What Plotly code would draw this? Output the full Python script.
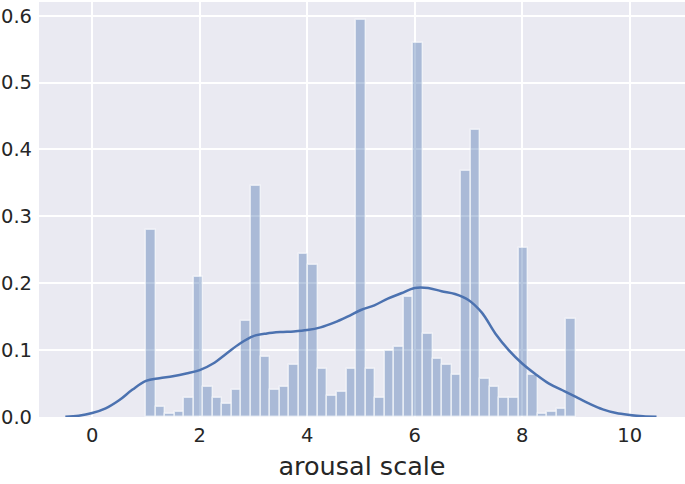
import numpy as np
import plotly.graph_objects as go

# histogram (density) of the arousal ratings: 45 equal bins from 1 to 9
BIN_LO, BIN_HI = 1.0, 9.0
density = [0.279, 0.0145, 0.005, 0.007, 0.029, 0.210, 0.045, 0.029, 0.0195, 0.040,
           0.144, 0.345, 0.089, 0.040, 0.045, 0.0775, 0.244, 0.227, 0.072, 0.031,
           0.037, 0.072, 0.593, 0.072, 0.029, 0.098, 0.104, 0.179, 0.559, 0.124,
           0.0865, 0.0775, 0.063, 0.368, 0.429, 0.057, 0.045, 0.029, 0.029, 0.253,
           0.063, 0.004, 0.007, 0.012, 0.146]

# kde curve
kde_x = [-0.5, -0.25, 0.0, 0.25, 0.5, 0.75, 1.0, 1.25, 1.5, 1.75, 2.0, 2.25, 2.5,
         2.75, 3.0, 3.25, 3.5, 3.75, 4.0, 4.25, 4.5, 4.75, 5.0, 5.25, 5.5, 5.75,
         6.0, 6.25, 6.5, 6.75, 7.0, 7.25, 7.5, 7.75, 8.0, 8.25, 8.5, 8.75, 9.0,
         9.25, 9.5, 9.75, 10.0, 10.25, 10.5]
kde_y = [0.0005, 0.002, 0.006, 0.013, 0.025, 0.041, 0.054, 0.058, 0.061, 0.065,
         0.070, 0.080, 0.095, 0.110, 0.121, 0.125, 0.127, 0.128, 0.130, 0.134,
         0.141, 0.150, 0.160, 0.167, 0.177, 0.185, 0.193, 0.193, 0.188, 0.184,
         0.175, 0.156, 0.125, 0.100, 0.080, 0.064, 0.050, 0.040, 0.030, 0.020,
         0.0115, 0.006, 0.003, 0.001, 0.0003]

BLUE = "#4C72B0"
TXT = "#262626"

n = len(density)
edges = np.linspace(BIN_LO, BIN_HI, n + 1)
centers = (edges[:-1] + edges[1:]) / 2
binw = edges[1] - edges[0]

fig = go.Figure()
fig.add_trace(go.Bar(
    x=centers, y=density, width=binw,
    marker=dict(color="rgba(76,114,176,0.4)",
                line=dict(color="rgba(255,255,255,0.6)", width=1.5)),
    showlegend=False, hoverinfo="skip"))
fig.add_trace(go.Scatter(
    x=kde_x, y=kde_y, mode="lines", line=dict(color=BLUE, width=2.5, shape="spline"),
    showlegend=False))

fig.update_layout(
    width=685, height=484,
    margin=dict(l=39, r=0, t=2, b=67),
    paper_bgcolor="white", plot_bgcolor="#EAEAF2",
    font=dict(family="DejaVu Sans", color=TXT, size=19.5),
    bargap=0,
)
fig.update_xaxes(
    range=[-0.99, 11.03], tickvals=[0, 2, 4, 6, 8, 10],
    showgrid=True, gridcolor="white", gridwidth=1.6, zeroline=False,
    showline=False, ticks="", ticklabelstandoff=4, automargin=False,
    title=dict(text="arousal scale", font=dict(size=25.5, color=TXT), standoff=11))
fig.update_yaxes(
    range=[0, 0.6205], tickvals=[0, 0.1, 0.2, 0.3, 0.4, 0.5, 0.6], tickformat=".1f",
    showgrid=True, gridcolor="white", gridwidth=1.6, zeroline=False,
    showline=False, ticks="", ticklabelstandoff=6, automargin=False)

# drop the browser's default 8px body margin so the figure sits at the corner
fig.write_html("out.html", config={"displayModeBar": False},
               post_script="document.body.style.margin='0';")
